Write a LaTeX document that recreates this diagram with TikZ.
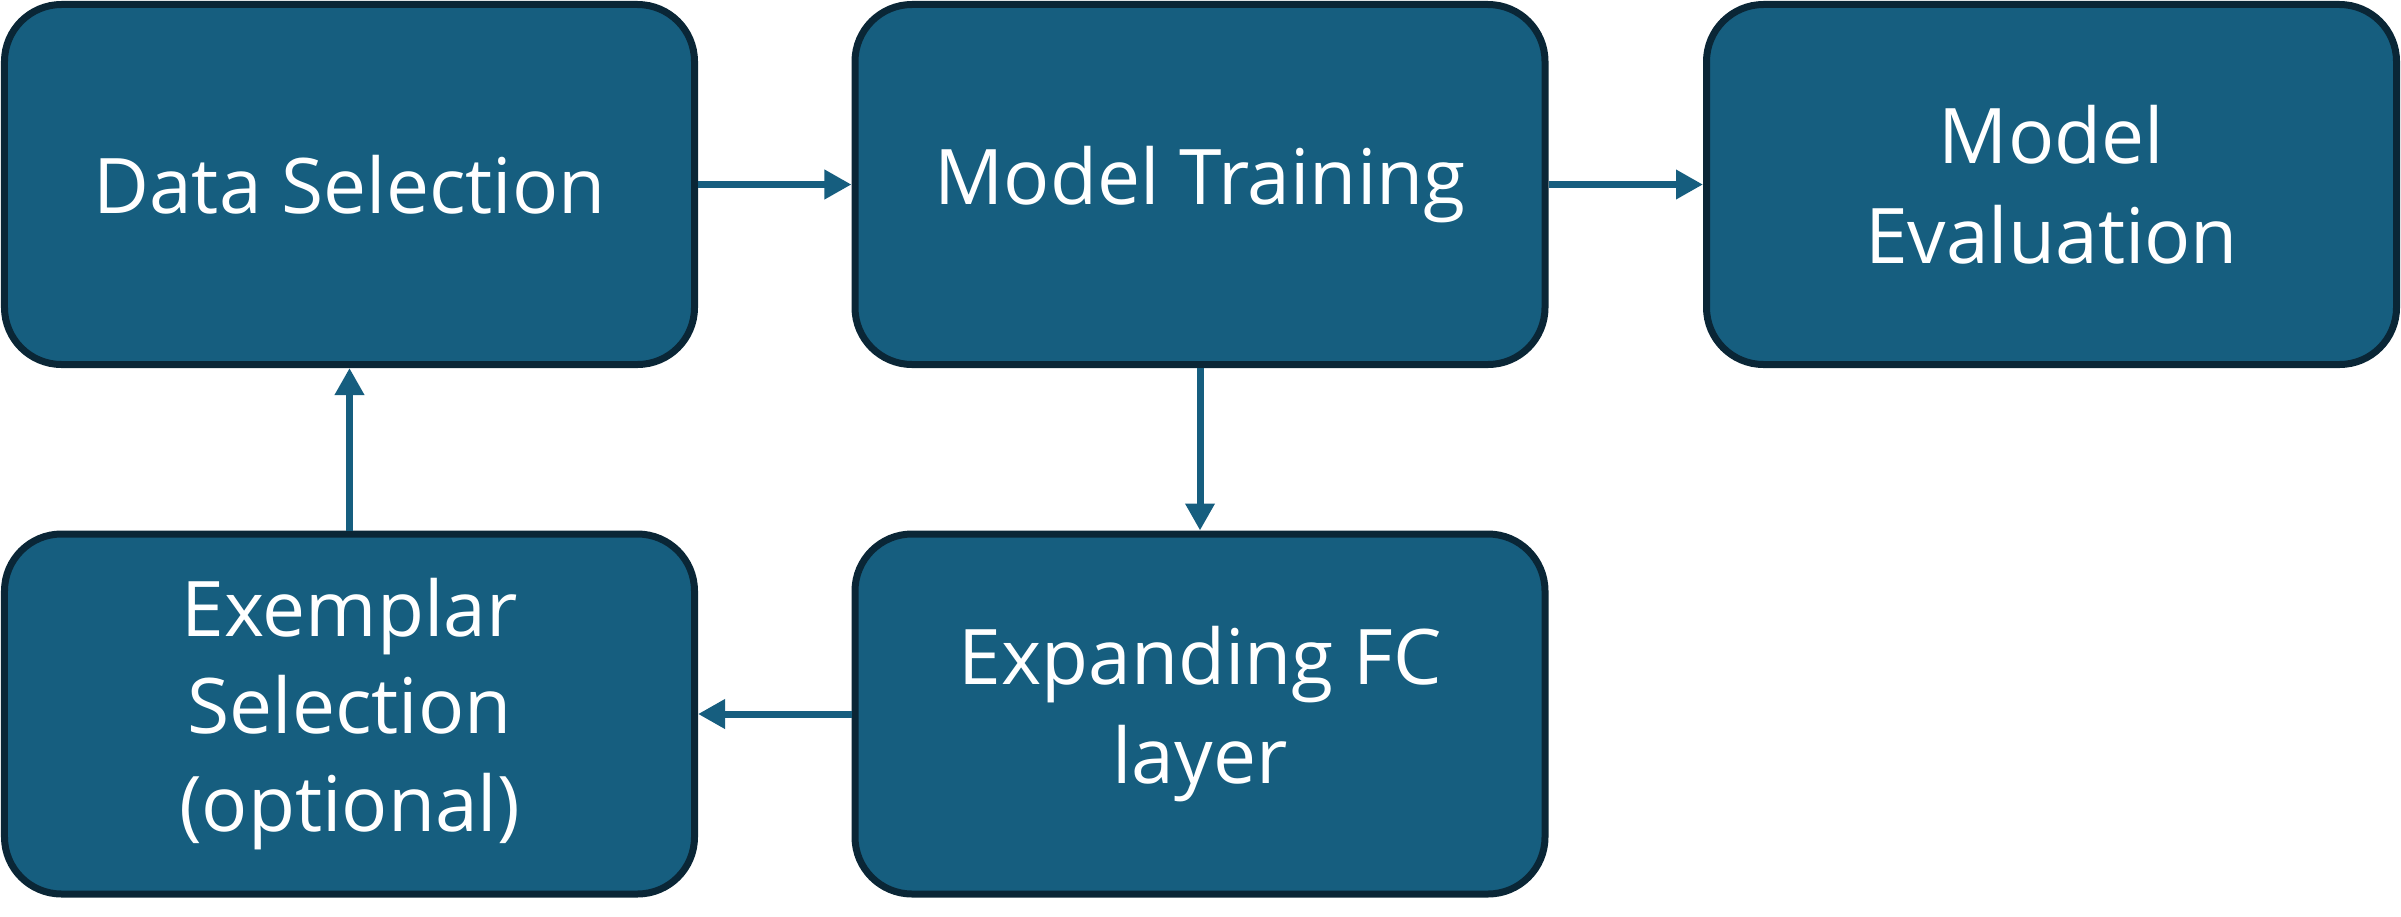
\documentclass[tikz,border=0pt]{standalone}
\usepackage{fontspec}
\setmainfont{Open Sans}
\usetikzlibrary{arrows.meta}
\definecolor{boxfill}{RGB}{22,94,127}
\definecolor{boxline}{RGB}{10,38,54}
\tikzset{
  stage/.style={draw=boxline, fill=boxfill, line width=3.5bp, rounded corners=28.5bp,
    minimum width=345bp, minimum height=180bp, inner sep=0pt, text=white, align=center,
    font=\fontsize{38.5}{50}\selectfont},
  flow/.style={draw=boxfill, line width=3.5bp, -{Triangle[length=13.5bp,width=14bp]}}
}
\begin{document}
\begin{tikzpicture}[x=0.5bp,y=-0.5bp]
\useasboundingbox (0,0) rectangle (2401,916);
\node[stage] (ds) at (349.5,184.5) {Data Selection};
\node[stage] (mt) at (1200,184.5) {Model Training};
\node[stage] (me) at (2051.5,184.5) {Model\\Evaluation};
\node[stage, font=\fontsize{38.5}{49}\selectfont] (ex) at (349.5,714) {Exemplar\\Selection\\(optional)};
\node[stage] (ef) at (1200,714) {Expanding FC\\layer};
\draw[flow] (ds) -- (mt);
\draw[flow] (mt) -- (me);
\draw[flow] (mt) -- (ef);
\draw[flow] (ef) -- (ex);
\draw[flow] (ex) -- (ds);
\end{tikzpicture}
\end{document}
